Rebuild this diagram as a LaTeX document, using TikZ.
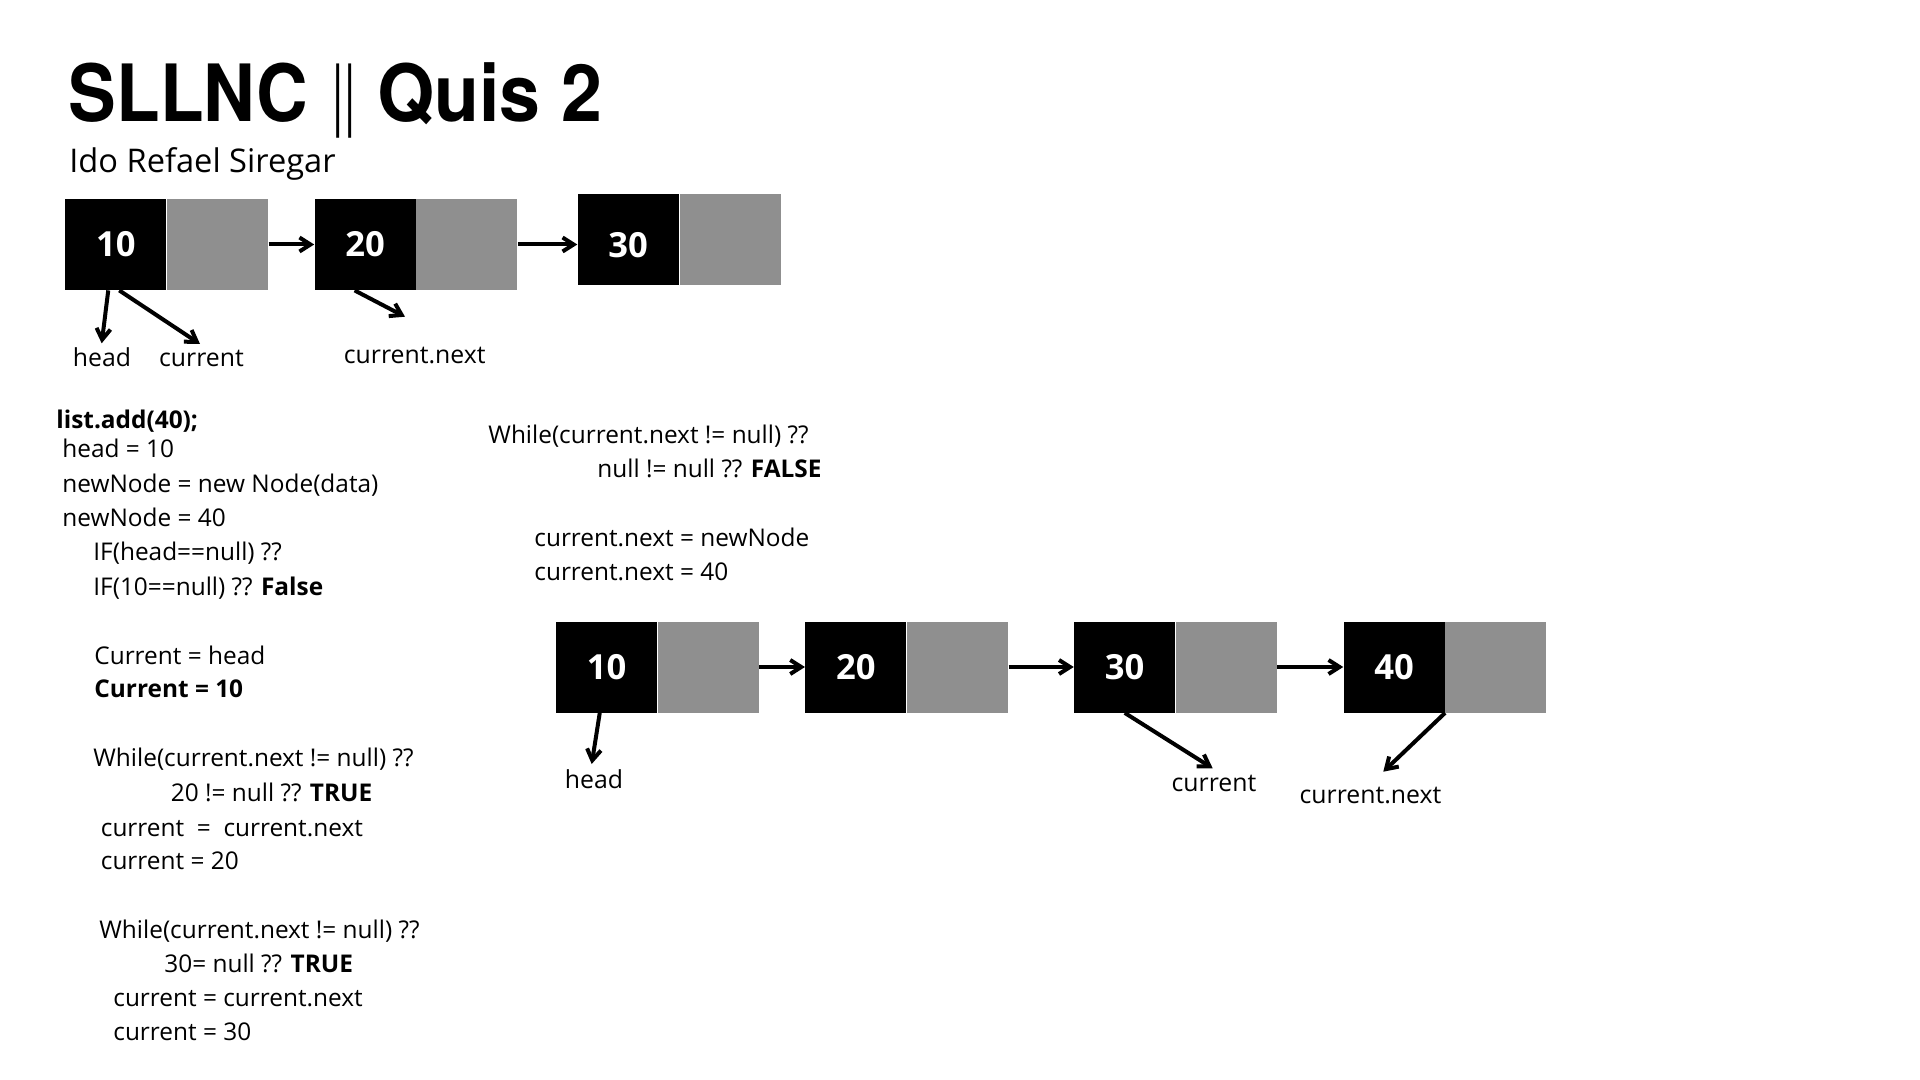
\documentclass[tikz,border=0pt]{standalone}
\usepackage{fontspec}
\usepackage{graphicx}
\setmainfont{Open Sans}
\newfontfamily\herosfont{TeX Gyre Heros}
\newfontfamily\herosbold{TeX Gyre Heros Bold}
\usetikzlibrary{arrows.meta,calc}
\definecolor{ptrgray}{RGB}{143,143,143}
\newcommand\codefont{\fontsize{12.2}{14}\selectfont}
\begin{document}
\begin{tikzpicture}[x=0.5pt,y=-0.5pt,
  datab/.style={fill=black, text=white, minimum width=50.5pt, minimum height=45.5pt, inner sep=0pt, font=\bfseries\fontsize{17.3}{20}\selectfont},
  numtxt/.style={text=white, inner sep=0pt, font=\bfseries\fontsize{17.3}{20}\selectfont},
  ptrb/.style={fill=ptrgray, minimum width=50.5pt, minimum height=45.5pt, inner sep=0pt, anchor=west},
  arr/.style={-{Straight Barb[length=5.5pt,width=7pt]}, line width=2pt},
  lbl/.style={anchor=base, inner sep=0pt, font=\fontsize{12.4}{14}\selectfont},
  code/.style={anchor=base west, inner sep=0pt, font=\codefont}]
\useasboundingbox[fill=white] (0,0) rectangle (1920,1080);

% title
\node[anchor=base west, inner sep=0pt] (title) at (68.5,121.7) {\herosbold\fontsize{39.5}{44}\selectfont\scalebox{0.905}[1]{SLLNC}\hspace{1.5pt} \scalebox{0.55}[1]{\herosfont ||} \scalebox{0.93}[1]{Quis 2}};
\node[anchor=base west, inner sep=0pt] (subtitle) at (69,172.7) {\fontsize{16.3}{19}\selectfont Ido Refael Siregar};

% top list
\node[datab] (t1) at (115.85,244.5) {10};
\node[ptrb] (t1p) at (t1.east) {};
\node[datab] (t2) at (365.1,244.5) {20};
\node[ptrb] (t2p) at (t2.east) {};
\node[datab] (t3) at (628.2,239.5) {};
\node[numtxt] (t3num) at ($(t3.center)+(0,5.5)$) {30};
\node[ptrb] (t3p) at (t3.east) {};
\draw[arr] (t1p.east) -- (t2.west);
\draw[arr] (t2p.east) -- (t2p.east -| t3.west);

\node[lbl] (thead) at (102,366) {head};
\node[lbl] (tcur) at (201.5,366.7) {current};
\node[lbl] (tnext) at (414.7,363.3) {current.next};
\coordinate (theadp) at (101.7,343.3);
\coordinate (tcurp) at (200,344);
\coordinate (tnextp) at (405,316.7);
\draw[arr] ($(t1.south west)+(43.3,0)$) -- (theadp);
\draw[arr] ($(t1.south west)+(54.3,0)$) -- (tcurp);
\draw[arr] ($(t2.south west)+(40.4,0)$) -- (tnextp);

% left code
\node[code] (c1) at (56,428) {\bfseries list.add(40);};
\node[code] (c2) at (62,457.7) {head = 10};
\node[code] (c3) at (62,492.7) {newNode = new Node(data)};
\node[code] (c4) at (62,526.7) {newNode = 40};
\node[code] (c5) at (93,560.7) {IF(head==null) ??};
\node[code] (c6) at (93,595) {IF(10==null) ?? \textbf{False}};
\node[code] (c7) at (94,664) {Current = head};
\node[code] (c8) at (94,697) {\bfseries Current = 10};
\node[code] (c9) at (93,766.7) {While(current.next != null) ??};
\node[code] (c10) at (170.5,801) {20 != null ?? \textbf{TRUE}};
\node[code] (c11) at (100.5,836) {current\ \ =\ \ current.next};
\node[code] (c12) at (100.5,869.3) {current = 20};
\node[code] (c13) at (99,938.3) {While(current.next != null) ??};
\node[code] (c14) at (164,972.7) {30= null ?? \textbf{TRUE}};
\node[code] (c15) at (113,1006.7) {current = current.next};
\node[code] (c16) at (113,1040.7) {current = 30};

% right code
\node[code] (r1) at (488,443.3) {While(current.next != null) ??};
\node[code] (r2) at (597,477.3) {null != null ?? \textbf{FALSE}};
\node[code] (r3) at (534,546) {current.next = newNode};
\node[code] (r4) at (534,580) {current.next = 40};

% bottom list
\node[datab] (b1) at (606.65,667) {10};
\node[ptrb] (b1p) at (b1.east) {};
\node[datab] (b2) at (855.85,667) {20};
\node[ptrb] (b2p) at (b2.east) {};
\node[datab] (b3) at (1124.65,667) {30};
\node[ptrb] (b3p) at (b3.east) {};
\node[datab] (b4) at (1394.15,667) {40};
\node[ptrb] (b4p) at (b4.east) {};
\draw[arr] (b1p.east) -- (b2.west);
\draw[arr] (b2p.east) -- (b3.west);
\draw[arr] (b3p.east) -- (b4.west);

\node[lbl] (bhead) at (594,788.3) {head};
\node[lbl] (bcur) at (1214,791.7) {current};
\node[lbl] (bnext) at (1370.5,803.3) {current.next};
\coordinate (bheadp) at (591.7,764);
\coordinate (bcurp) at (1212.7,768.3);
\coordinate (bnextp) at (1383.3,771.7);
\draw[arr] ($(b1.south west)+(44,0)$) -- (bheadp);
\draw[arr] ($(b3.south west)+(51,0)$) -- (bcurp);
\draw[arr] (b4.south east) -- (bnextp);
\end{tikzpicture}
\end{document}
